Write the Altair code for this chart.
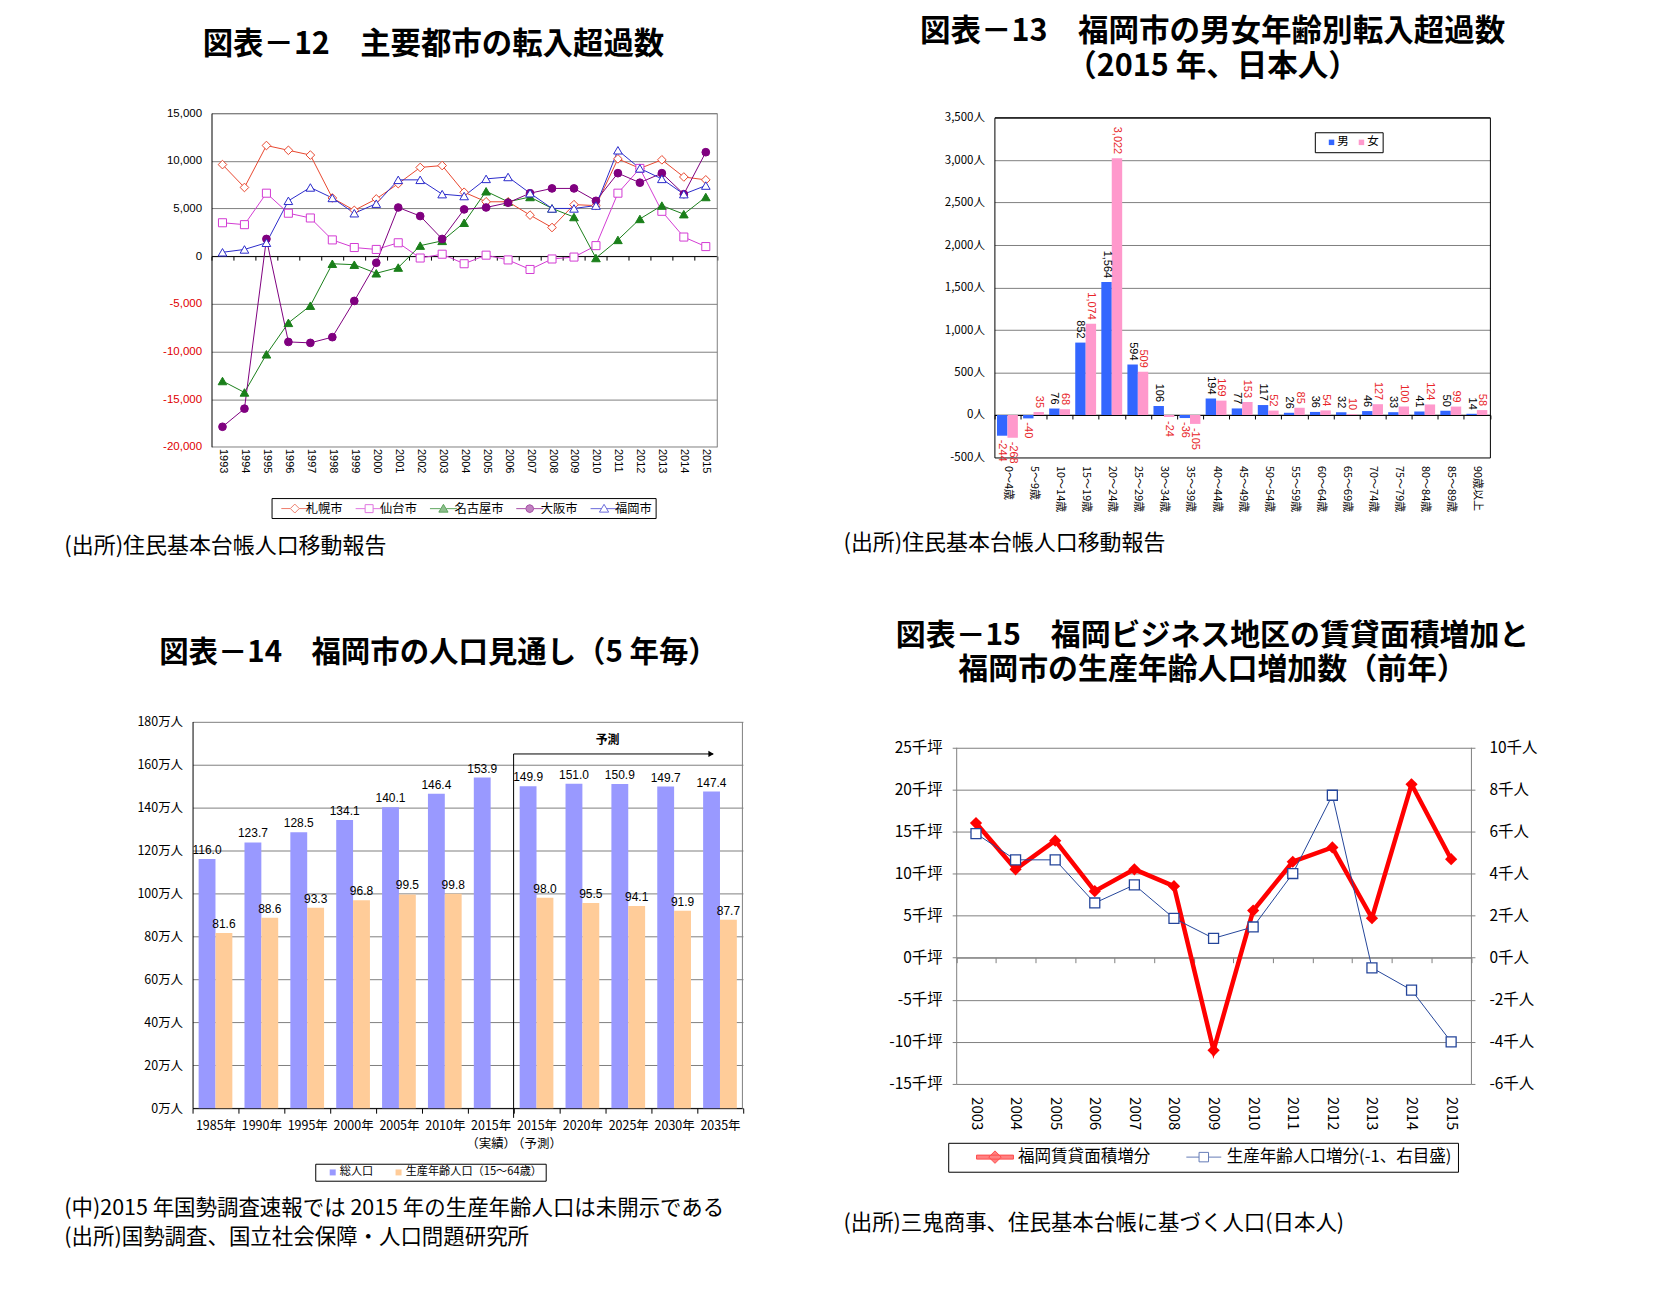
import altair as alt
import pandas as pd

LAT = "Liberation Sans, Arial, Noto Sans CJK JP, sans-serif"
JP = "Noto Sans CJK JP, Noto Sans, sans-serif"
MINUS = "\u2212"
W, HT, HB = 820, 640, 642
GRID = "#808080"
DX = -4.5  # small global horizontal correction

# ---------------- 図表-12 data
years12 = [str(y) for y in range(1993, 2016)]
cities = ["札幌市", "仙台市", "名古屋市", "大阪市", "福岡市"]
sapporo = [9600, 7200, 11600, 11100, 10600, 6100, 4800, 6000, 7600, 9300, 9500, 6700,
           5700, 5700, 4300, 3000, 5400, 5300, 10200, 9200, 10100, 8300, 8000]
sendai = [3500, 3300, 6600, 4500, 4000, 1700, 900, 700, 1400, -200, 200, -800,
          100, -400, -1400, -300, -100, 1100, 6600, 9200, 4700, 2000, 1000]
nagoya = [-13100, -14300, -10300, -7000, -5200, -800, -900, -1800, -1200, 1100, 1600, 3500,
          6800, 5700, 6200, 5000, 4100, -200, 1700, 3900, 5300, 4400, 6200]
osaka = [-17900, -16000, 1800, -9000, -9100, -8500, -4700, -700, 5100, 4200, 1800, 4900,
         5100, 5600, 6600, 7100, 7100, 5800, 8700, 7700, 8700, 6500, 10900]
fukuoka = [400, 700, 1400, 5800, 7200, 6100, 4500, 5500, 8000, 8000, 6500, 6300,
           8100, 8300, 6600, 5000, 5000, 5300, 11100, 9200, 8100, 6500, 7400]
col12 = ["#E8472F", "#D33BD3", "#1A7F1A", "#800080", "#2B2BCB"]
fill12 = ["white", "white", "#1A7F1A", "#800080", "white"]
shape12 = ["diamond", "square", "triangle-up", "circle", "triangle-up"]
size12 = [75, 65, 75, 60, 75]

# ---------------- 図表-13 data
ages = ["0～4歳", "5～9歳", "10～14歳", "15～19歳", "20～24歳", "25～29歳", "30～34歳",
        "35～39歳", "40～44歳", "45～49歳", "50～54歳", "55～59歳", "60～64歳", "65～69歳",
        "70～74歳", "75～79歳", "80～84歳", "85～89歳", "90歳以上"]
sexes = ["男", "女"]
male = [-244, -40, 76, 852, 1564, 594, 106, -36, 194, 77, 117, 26, 36, 32, 46, 33, 41, 50, 14]
female = [-268, 35, 68, 1074, 3022, 509, -24, -105, 169, 153, 52, 85, 54, 10, 127, 100, 124, 99, 58]

# ---------------- 図表-14 data
cats14 = ["1985年", "1990年", "1995年", "2000年", "2005年", "2010年", "2015年|（実績）",
          "2015年|（予測）", "2020年", "2025年", "2030年", "2035年"]
series14 = ["総人口", "生産年齢人口（15～64歳）"]
total14 = [116.0, 123.7, 128.5, 134.1, 140.1, 146.4, 153.9, 149.9, 151.0, 150.9, 149.7, 147.4]
work14 = [81.6, 88.6, 93.3, 96.8, 99.5, 99.8, None, 98.0, 95.5, 94.1, 91.9, 87.7]

# ---------------- 図表-15 data
years15 = [str(y) for y in range(2003, 2016)]
series15 = ["福岡賃貸面積増分", "生産年齢人口増分(-1、右目盛)"]
rent15 = [16.0, 10.5, 13.9, 7.9, 10.5, 8.5, -11.0, 5.6, 11.4, 13.1, 4.7, 20.6, 11.7]
pop15 = [5.9, 4.65, 4.65, 2.6, 3.46, 1.87, 0.92, 1.46, 4.0, 7.72, -0.48, -1.54, -4.0]


def make_title(lines, dx, dy, fs):
    return alt.TitleParams(text=lines, anchor="middle", frame="group", orient="top", offset=0,
                           baseline="middle", dx=dx + DX, dy=dy, font=JP, fontSize=fs,
                           fontWeight="bold", color="black", lineHeight=35)


def note(text, x, y, size=21.5):
    return alt.Chart(pd.DataFrame({"t": [text]})).mark_text(
        align="left", baseline="middle", font=JP, fontSize=size, color="black"
    ).encode(x=alt.value(x + DX), y=alt.value(y), text="t:N")


def frame_axis(orient, offset, color):
    return alt.Axis(orient=orient, offset=offset, labels=False, ticks=False, grid=False,
                    domainColor=color, title=None)


# =============== Panel A : 図表-12 ===============
df12 = pd.DataFrame([{"year": y, "city": c, "value": v}
                     for c, vals in zip(cities, [sapporo, sendai, nagoya, osaka, fukuoka])
                     for y, v in zip(years12, vals)])
A0, A1, AT, AB = 202.5 + DX, 709.0 + DX, 102.8, 437.3
xsA = alt.Scale(type="band", domain=years12, range=[A0, A1], paddingInner=0, paddingOuter=0)
ysA = alt.Scale(type="linear", domain=[-20000, 15000], range=[AB, AT], nice=False, zero=False)
zeroA = AB - (AB - AT) * 20000 / 35000
axAx = alt.Axis(orient="bottom", offset=zeroA - HT, title=None, labelAngle=90,
                labelPadding=445 - 8 - zeroA - 4 + 2,
                tickBand="extent", tickSize=4, tickColor="black", domainColor="black",
                labelFont=LAT, labelFontSize=11, labelColor="black", grid=False, labelOverlap=False)
axAy = alt.Axis(orient="left", offset=-A0, title=None, values=list(range(-20000, 15001, 5000)),
                labelExpr=f"replace(format(datum.value, ','), '{MINUS}', '-')",
                labelColor={"condition": {"test": "datum.value < 0", "value": "#E00000"}, "value": "black"},
                labelFont=LAT, labelFontSize=11.5, labelPadding=10, ticks=False, domainColor="black",
                grid=True, gridColor=GRID, labelOverlap=False)

layersA = []
for i, c in enumerate(cities):
    layersA.append(
        alt.Chart(df12).transform_filter(alt.datum.city == c).mark_line(
            color=col12[i], strokeWidth=1
        ).encode(x=alt.X("year:O", scale=xsA, axis=axAx if i == 0 else None),
                 y=alt.Y("value:Q", scale=ysA, axis=axAy if i == 0 else None))
    )
for i, c in enumerate(cities):
    ax_x = frame_axis("top", -AT, GRID) if i == 0 else None
    ax_y = frame_axis("right", A1 - W, GRID) if i == 0 else None
    layersA.append(
        alt.Chart(df12).transform_filter(alt.datum.city == c).mark_point(
            shape=shape12[i], filled=True, fill=fill12[i], stroke=col12[i], strokeWidth=1,
            size=size12[i], opacity=1
        ).encode(x=alt.X("year:O", scale=xsA, axis=ax_x), y=alt.Y("value:Q", scale=ysA, axis=ax_y))
    )

Lg = 1.93


def seg(g):
    return f"M-{Lg},0H-{g}M{g},0H{Lg}"


path12 = [
    seg(0.64) + "M0,-0.64L0.64,0L0,0.64L-0.64,0Z",
    seg(0.57) + "M-0.57,-0.57H0.57V0.57H-0.57Z",
    seg(0.4) + "M0,-0.62L0.66,0.5H-0.66Z",
    seg(0.57) + "M0.57,0L0.4,0.4L0,0.57L-0.4,0.4L-0.57,0L-0.4,-0.4L0,-0.57L0.4,-0.4Z",
    seg(0.4) + "M0,-0.62L0.66,0.5H-0.66Z",
]
legA = alt.Legend(title=None, orient="none", legendX=262.7 + DX, legendY=488.7, direction="horizontal",
                  strokeColor="black", fillColor="white", padding=3, symbolSize=196,
                  symbolStrokeWidth=1, symbolOffset=12.8, labelOffset=3.5, labelFont=JP,
                  labelFontSize=12.3, labelColor="black", columnPadding=5.5, labelLimit=500)
legLayerA = alt.Chart(df12).transform_filter("false").mark_point(filled=True).encode(
    shape=alt.Shape("city:N", scale=alt.Scale(domain=cities, range=path12), legend=legA),
    stroke=alt.Stroke("city:N", scale=alt.Scale(domain=cities, range=col12), legend=legA),
    fill=alt.Fill("city:N", scale=alt.Scale(domain=cities, range=fill12), legend=legA),
)
layersA += [legLayerA, note("(出所)住民基本台帳人口移動報告", 55, 536.4, 22)]
pA = alt.layer(*layersA).properties(
    width=W, height=HT, title=make_title(["図表－12　主要都市の転入超過数"], 15, 65, 30.5)
).resolve_axis(x="independent", y="independent")

# =============== Panel B : 図表-13 ===============
df13 = pd.DataFrame([{"age": a, "sex": s, "value": v, "label": f"{v:,}"}
                     for a, m, f in zip(ages, male, female) for s, v in (("男", m), ("女", f))])
B0, B1, BT, BB = 162.8, 659.5, 107.3, 448.0
xsB = alt.Scale(type="band", domain=ages, range=[B0, B1], paddingInner=0, paddingOuter=0)
ysB = alt.Scale(type="linear", domain=[-500, 3500], range=[BB, BT], nice=False, zero=False)
zeroB = BB - (BB - BT) * 500 / 4000
xoB = alt.Scale(domain=sexes, paddingOuter=0.25, paddingInner=0)
axBx = alt.Axis(orient="bottom", offset=zeroB - HT, title=None, labelAngle=90,
                labelPadding=BB - zeroB + 4,
                tickBand="extent", tickSize=4, tickColor="black", domainColor="black",
                labelFont=JP, labelFontSize=11, labelColor="black", grid=False, labelOverlap=False)
axBy = alt.Axis(orient="left", offset=-B0, title=None, values=list(range(-500, 3501, 500)),
                labelExpr=f"replace(format(datum.value, ','), '{MINUS}', '-') + '人'",
                labelFont=JP, labelFontSize=11.5, labelColor="black", labelPadding=10, ticks=False,
                domainColor="black", grid=True, labelOverlap=False,
                gridColor={"condition": {"test": "datum.value == -500 || datum.value == 3500",
                                         "value": "black"}, "value": GRID})
legB = alt.Legend(title=None, orient="none", legendX=484, legendY=122, direction="horizontal",
                  strokeColor="black", fillColor="white", padding=4, symbolType="square",
                  symbolSize=30, symbolOffset=7, labelOffset=0, labelFont=JP, labelFontSize=11.5,
                  labelColor="black", columnPadding=0, labelLimit=500)
barsB = alt.Chart(df13).mark_bar().encode(
    x=alt.X("age:N", scale=xsB, axis=axBx),
    y=alt.Y("value:Q", scale=ysB, axis=axBy),
    xOffset=alt.XOffset("sex:N", scale=xoB),
    color=alt.Color("sex:N", scale=alt.Scale(domain=sexes, range=["#3366FF", "#FF99CC"]), legend=legB),
)
lblColor = alt.condition("datum.value < 0 || datum.sex == '女'", alt.value("#E8262A"), alt.value("black"))
txtBpos = alt.Chart(df13).transform_filter("datum.value >= 0").mark_text(
    angle=90, align="right", baseline="middle", dx=-4, font=LAT, fontSize=11
).encode(
    x=alt.X("age:N", scale=xsB, axis=frame_axis("top", -BT, "black")),
    y=alt.Y("value:Q", scale=ysB, axis=frame_axis("right", B1 - W, "black")),
    xOffset=alt.XOffset("sex:N", scale=xoB), text="label:N", color=lblColor)
txtBneg = alt.Chart(df13).transform_filter("datum.value < 0").mark_text(
    angle=90, align="left", baseline="middle", dx=4, font=LAT, fontSize=11
).encode(
    x=alt.X("age:N", scale=xsB, axis=None), y=alt.Y("value:Q", scale=ysB, axis=None),
    xOffset=alt.XOffset("sex:N", scale=xoB), text="label:N", color=lblColor)
pB = alt.layer(barsB, txtBpos, txtBneg, note("(出所)住民基本台帳人口移動報告", 16, 533.3, 22)).properties(
    width=W, height=HT,
    title=make_title(["図表－13　福岡市の男女年齢別転入超過数", "（2015 年、日本人）"], -24, 86.7, 30.6)
).resolve_axis(x="independent", y="independent")

# =============== Panel C : 図表-14 ===============
rows14 = []
for c, t, w in zip(cats14, total14, work14):
    rows14.append({"cat": c, "series": series14[0], "value": t, "label": f"{t:.1f}"})
    if w is not None:
        rows14.append({"cat": c, "series": series14[1], "value": w, "label": f"{w:.1f}"})
df14 = pd.DataFrame(rows14)
C0, C1, CT, CB = 183.5 + DX, 730.7, 72.7, 460.3
xsC = alt.Scale(type="band", domain=cats14, range=[C0, C1], paddingInner=0, paddingOuter=0)
ysC = alt.Scale(type="linear", domain=[0, 180], range=[CB, CT], nice=False, zero=False)
xoC = alt.Scale(domain=series14, paddingOuter=0.36, paddingInner=0)
axCx = alt.Axis(orient="bottom", offset=CB - HB, title=None, labelAngle=0, labelPadding=6,
                tickBand="extent", tickSize=5, tickColor="black", domainColor="black",
                labelExpr="split(datum.label, '|')", labelLineHeight=18, labelFont=JP,
                labelFontSize=12.5, labelColor="black", grid=False, labelOverlap=False)
axCy = alt.Axis(orient="left", offset=-C0, title=None, values=list(range(0, 181, 20)),
                labelExpr="datum.value + '万人'", labelFont=JP, labelFontSize=12.5, labelColor="black",
                labelPadding=10, ticks=False, domainColor="black", grid=True, gridColor=GRID,
                labelOverlap=False)
legC = alt.Legend(title=None, orient="none", legendX=302, legendY=516, direction="horizontal",
                  strokeColor="black", fillColor="white", padding=3, symbolType="square",
                  symbolSize=36, symbolOffset=8.9, labelOffset=1.5, labelFont=JP, labelFontSize=11.2,
                  labelColor="black", columnPadding=10, labelLimit=500)
barsC = alt.Chart(df14).mark_bar().encode(
    x=alt.X("cat:N", scale=xsC, axis=axCx),
    y=alt.Y("value:Q", scale=ysC, axis=axCy),
    xOffset=alt.XOffset("series:N", scale=xoC),
    color=alt.Color("series:N", scale=alt.Scale(domain=series14, range=["#9999FF", "#FFCC99"]), legend=legC),
)
txtC = alt.Chart(df14).mark_text(baseline="bottom", dy=-2, font=LAT, fontSize=12, color="black").encode(
    x=alt.X("cat:N", scale=xsC, axis=None),
    y=alt.Y("value:Q", scale=ysC, axis=frame_axis("right", C1 - 1 - W, GRID)),
    xOffset=alt.XOffset("series:N", scale=xoC), text="label:N")
one = pd.DataFrame({"a": [0]})
sepC = alt.Chart(one).mark_rule(color="black", strokeWidth=1).encode(
    x=alt.X(datum=cats14[7], bandPosition=0, scale=xsC, axis=None),
    y=alt.Y(datum=164.9, scale=ysC, axis=None), y2=alt.Y2(datum=-4.5))
arrC = alt.Chart(one).mark_rule(color="black", strokeWidth=1).encode(
    x=alt.X(datum=cats14[7], bandPosition=0, scale=xsC, axis=None),
    x2=alt.X2(datum=cats14[11], bandPosition=0.35),
    y=alt.Y(datum=164.9, scale=ysC, axis=None))
headC = alt.Chart(one).mark_point(shape="triangle-right", filled=True, color="black", size=40,
                                  xOffset=-2, opacity=1).encode(
    x=alt.X(datum=cats14[11], bandPosition=0.35, scale=xsC, axis=None),
    y=alt.Y(datum=164.9, scale=ysC, axis=None))
yosoku = alt.Chart(one).mark_text(font=JP, fontSize=12, fontWeight="bold", color="black",
                                  baseline="middle").encode(
    x=alt.X(datum=cats14[9], bandPosition=0.05, scale=xsC, axis=None),
    y=alt.Y(datum=171.5, scale=ysC, axis=None), text=alt.value("予測"))
pC = alt.layer(barsC, txtC, sepC, arrC, headC, yosoku,
               note("(中)2015 年国勢調査速報では 2015 年の生産年齢人口は未開示である", 55, 561),
               note("(出所)国勢調査、国立社会保障・人口問題研究所", 55, 590.6)).properties(
    width=W, height=HB, title=make_title(["図表－14　福岡市の人口見通し（5 年毎）"], 20, 34, 29.5)
).resolve_axis(x="independent", y="independent")

# =============== Panel D : 図表-15 ===============
df15 = pd.DataFrame({"year": years15, "rent": rent15, "pop": pop15})
D0, D1, DT, DB = 124.5, 640.5, 98.5, 436.0
xsD = alt.Scale(type="band", domain=years15, range=[D0, D1], paddingInner=0, paddingOuter=0)
ysL = alt.Scale(type="linear", domain=[-15, 25], range=[DB, DT], nice=False, zero=False)
ysR = alt.Scale(type="linear", domain=[-6, 10], range=[DB, DT], nice=False, zero=False)
zeroD = DB - (DB - DT) * 15 / 40
axDx = alt.Axis(orient="bottom", offset=zeroD - HB, title=None, labelAngle=90,
                labelPadding=1096.7 - 648 - zeroD - 5,
                tickBand="extent", tickSize=5, tickColor=GRID, domainColor=GRID, labelFont=JP,
                labelFontSize=15, labelColor="black", grid=False, labelOverlap=False)
axDl = alt.Axis(orient="left", offset=-D0, title=None, values=list(range(-15, 26, 5)),
                labelExpr="datum.value + '千坪'", labelFont=JP, labelFontSize=15.5, labelColor="black",
                labelPadding=10, tickSize=4, tickColor=GRID, domainColor=GRID, grid=True,
                gridColor=GRID, labelOverlap=False)
axDr = alt.Axis(orient="right", offset=D1 - W, title=None, values=list(range(-6, 11, 2)),
                labelExpr="datum.value + '千人'", labelFont=JP, labelFontSize=15.5, labelColor="black",
                labelPadding=14, tickSize=4, tickColor=GRID, domainColor=GRID, grid=False,
                labelOverlap=False)
RED, NAVY = "#FF0000", "#24459A"
redLine = alt.Chart(df15).mark_line(color=RED, strokeWidth=4.5).encode(
    x=alt.X("year:O", scale=xsD, axis=axDx), y=alt.Y("rent:Q", scale=ysL, axis=axDl))
redPts = alt.Chart(df15).mark_point(shape="diamond", filled=True, color=RED, size=150, opacity=1).encode(
    x=alt.X("year:O", scale=xsD, axis=None), y=alt.Y("rent:Q", scale=ysL, axis=None))
blueLine = alt.Chart(df15).mark_line(color=NAVY, strokeWidth=1).encode(
    x=alt.X("year:O", scale=xsD, axis=None), y=alt.Y("pop:Q", scale=ysR, axis=axDr))
bluePts = alt.Chart(df15).mark_point(shape="square", filled=True, fill="white", stroke=NAVY,
                                     strokeWidth=1.3, size=100, opacity=1).encode(
    x=alt.X("year:O", scale=xsD, axis=None), y=alt.Y("pop:Q", scale=ysR, axis=None))
path15 = [
    "M-3.7,-0.4H3.7V0.4H-3.7ZM0,-1.25L1.25,0L0,1.25L-1.25,0Z",
    "M-3.5,0H-0.95M0.95,0H3.5M-0.95,-0.95H0.95V0.95H-0.95Z",
]
legD = alt.Legend(title=None, orient="none", legendX=121 + DX, legendY=495, direction="horizontal",
                  strokeColor="black", fillColor="white", padding=6, symbolSize=100,
                  symbolStrokeWidth=1, symbolOffset=32.6, labelOffset=14.7, labelFont=JP,
                  labelFontSize=16.6, labelColor="black", columnPadding=12.3, labelLimit=500)
leg15df = pd.DataFrame({"series": series15})
legLayerD = alt.Chart(leg15df).transform_filter("false").mark_point(filled=True).encode(
    shape=alt.Shape("series:N", scale=alt.Scale(domain=series15, range=path15), legend=legD),
    stroke=alt.Stroke("series:N", scale=alt.Scale(domain=series15, range=[RED, NAVY]), legend=legD),
    fill=alt.Fill("series:N", scale=alt.Scale(domain=series15, range=[RED, "white"]), legend=legD),
)
pD = alt.layer(redLine, redPts, blueLine, bluePts, legLayerD,
               note("(出所)三鬼商事、住民基本台帳に基づく人口(日本人)", 16, 576.8)).properties(
    width=W, height=HB,
    title=make_title(["図表－15　福岡ビジネス地区の賃貸面積増加と", "福岡市の生産年齢人口増加数（前年）"], -24, 51.5, 30)
).resolve_scale(y="independent").resolve_axis(x="independent", y="independent")

chart = alt.concat(pA, pB, pC, pD, columns=2, spacing=0, bounds="flush", align="each").resolve_scale(
    color="independent", fill="independent", stroke="independent", shape="independent",
    xOffset="independent"
).resolve_legend(
    color="independent", fill="independent", stroke="independent", shape="independent"
).properties(padding=0, background="white").configure(font=JP).configure_view(stroke="transparent")

chart.save("out.html", embed_options={"renderer": "svg", "actions": False})
